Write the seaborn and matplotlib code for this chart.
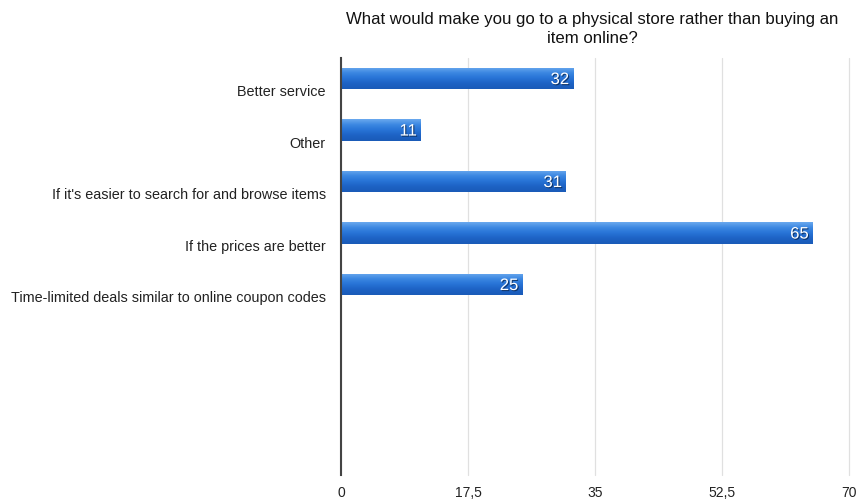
import numpy as np
import pandas as pd
import matplotlib
matplotlib.use("Agg")
import matplotlib.pyplot as plt
import matplotlib.patheffects as pe
from matplotlib.colors import LinearSegmentedColormap
import seaborn as sns

# Survey answers and counts
categories = [
    "Better service",
    "Other",
    "If it's easier to search for and browse items",
    "If the prices are better",
    "Time-limited deals similar to online coupon codes",
]
counts = [32, 11, 31, 65, 25]
x_ticks = [0, 17.5, 35, 52.5, 70]
x_tick_labels = ["0", "17,5", "35", "52,5", "70"]
title = "What would make you go to a physical store rather than buying an\nitem online?"

df = pd.DataFrame({"answer": categories, "count": counts})

sns.set_theme(style="white")
plt.rcParams["font.family"] = ["Liberation Sans", "DejaVu Sans"]

fig = plt.figure(figsize=(8.61, 5.04), dpi=100)
ax = fig.add_axes([0.396, 0.0575, 0.590, 0.8275])

sns.barplot(data=df, x="count", y="answer", orient="h", order=categories,
            color="#2a78d8", width=0.41, ax=ax, saturation=1)

# Vertical gradient fill on each bar
grad = LinearSegmentedColormap.from_list(
    "bar", ["#6aa9ee", "#3c88e2", "#2773d6", "#1d62c4", "#1a5bb8"])
gradient = np.linspace(0, 1, 64).reshape(-1, 1)
for patch in ax.patches:
    x0, y0 = patch.get_x(), patch.get_y()
    w, h = patch.get_width(), patch.get_height()
    patch.set_facecolor("none")
    patch.set_edgecolor("none")
    im = ax.imshow(gradient, cmap=grad, aspect="auto",
                   extent=[x0, x0 + w, y0 + h, y0], origin="upper", zorder=2)
    im.set_clip_path(patch)

# Value labels inside bar ends
for i, v in enumerate(counts):
    ax.text(v - 0.55, i + 0.02, str(v), ha="right", va="center",
            color="white", fontsize=12, zorder=3,
            path_effects=[pe.withSimplePatchShadow(offset=(0.8, -0.8),
                                                   shadow_rgbFace="#0b2a55",
                                                   alpha=0.8)])

ax.set_xlim(0, 70)
ax.set_ylim(7.7, -0.4)
ax.set_xticks(x_ticks)
ax.set_xticklabels(x_tick_labels, fontsize=10, color="#222222")
ax.set_yticks([i + 0.24 for i in range(len(categories))])
ax.set_yticklabels(categories, fontsize=10.4, color="#222222")
ax.tick_params(axis="x", length=0, pad=8)
ax.tick_params(axis="y", length=0, pad=11)
ax.set_xlabel("")
ax.set_ylabel("")

ax.grid(axis="x", color="#e0e0e0", linewidth=0.9)
for gl in ax.get_xgridlines():
    gl.set_clip_on(False)
ax.set_axisbelow(True)
for side in ["top", "right", "bottom"]:
    ax.spines[side].set_visible(False)
ax.spines["left"].set_color("#444444")
ax.spines["left"].set_linewidth(1.5)
ax.spines["left"].set_zorder(4)

fig.text(0.6875, 0.943, title, ha="center", va="center", fontsize=12.1,
         color="#111111", linespacing=1.3)

fig.savefig("out.png", dpi=100, facecolor="white")
